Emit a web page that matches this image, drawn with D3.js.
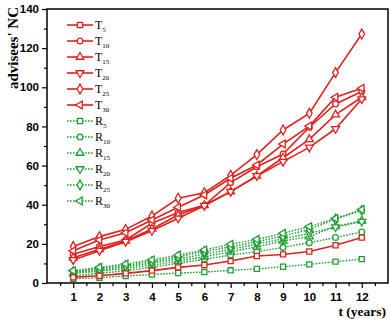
<!DOCTYPE html>
<html>
<head>
<meta charset="utf-8">
<script src="https://cdn.jsdelivr.net/npm/d3@7"></script>
<style>
  body { margin: 0; background: #fff; }
  svg { display: block; }
</style>
</head>
<body>
<svg id="chart"></svg>
<script>
const width = 390;
const height = 319;
const margin = { top: 9, right: 2, bottom: 36, left: 47 };

const years = [1, 2, 3, 4, 5, 6, 7, 8, 9, 10, 11, 12];
const xTicks = [1, 2, 3, 4, 5, 6, 7, 8, 9, 10, 11, 12];
const yTicks = [0, 20, 40, 60, 80, 100, 120, 140];

const T5  = [2.9, 3.7, 4.9, 6.3, 8.0, 9.2, 11.2, 13.8, 14.6, 16.1, 19.3, 23.2];
const T10 = [14.7, 18.6, 22.0, 30.5, 36.0, 39.7, 51.3, 59.4, 65.9, 79.6, 91.5, 97.8];
const T15 = [12.9, 17.2, 21.5, 27.6, 34.7, 39.7, 46.7, 54.7, 64.0, 73.4, 86.0, 94.9];
const T20 = [11.8, 16.5, 21.1, 26.7, 33.1, 39.5, 46.7, 54.7, 62.0, 69.3, 78.8, 94.0];
const T25 = [18.6, 23.7, 27.4, 34.2, 43.3, 46.1, 55.0, 65.6, 78.2, 86.7, 107.5, 127.2];
const T30 = [16.5, 22.0, 25.7, 32.2, 38.7, 45.0, 53.5, 60.3, 71.0, 80.2, 94.9, 99.5];

const R5  = [2.2, 2.7, 3.6, 4.3, 5.1, 5.6, 6.5, 7.2, 8.3, 9.5, 10.9, 12.2];
const R10 = [3.6, 4.9, 6.3, 8.0, 10.1, 12.1, 14.3, 16.0, 18.2, 20.6, 23.2, 26.1];
const R15 = [4.8, 6.0, 7.5, 9.0, 11.2, 13.4, 16.0, 18.5, 21.5, 23.7, 28.9, 31.8];
const R20 = [5.3, 6.6, 8.3, 10.1, 12.3, 14.7, 17.2, 19.9, 22.5, 25.4, 28.6, 31.4];
const R25 = [5.8, 7.3, 9.0, 10.9, 13.4, 16.0, 18.5, 21.1, 24.0, 27.4, 32.6, 37.1];
const R30 = [6.3, 8.0, 9.7, 11.8, 14.3, 16.9, 19.8, 22.3, 25.4, 28.8, 33.0, 37.5];

const red = "#e0201e";
const green = "#1f9e34";

// name, subscript, values, marker
const series = [
    { name: "T", sub: "5",  values: T5,  shape: "square" },
    { name: "T", sub: "10", values: T10, shape: "circle" },
    { name: "T", sub: "15", values: T15, shape: "up" },
    { name: "T", sub: "20", values: T20, shape: "down" },
    { name: "T", sub: "25", values: T25, shape: "diamond" },
    { name: "T", sub: "30", values: T30, shape: "left" },
    { name: "R", sub: "5",  values: R5,  shape: "square" },
    { name: "R", sub: "10", values: R10, shape: "circle" },
    { name: "R", sub: "15", values: R15, shape: "up" },
    { name: "R", sub: "20", values: R20, shape: "down" },
    { name: "R", sub: "25", values: R25, shape: "diamond" },
    { name: "R", sub: "30", values: R30, shape: "left" }
];

const svg = d3.select("#chart")
    .attr("width", width)
    .attr("height", height);

const xScale = d3.scaleLinear()
    .domain([0, 13])
    .range([margin.left, width - margin.right]);

const yScale = d3.scaleLinear()
    .domain([0, 140])
    .range([height - margin.bottom, margin.top]);

function symbolPath(shape) {
    const types = {
        square: [d3.symbolSquare, 26, 0],
        circle: [d3.symbolCircle, 26, 0],
        up: [d3.symbolTriangle, 26, 0],
        down: [d3.symbolTriangle, 26, 180],
        diamond: [d3.symbolDiamond, 28, 0],
        left: [d3.symbolTriangle, 26, -90]
    };
    const t = types[shape];
    return { d: d3.symbol().type(t[0]).size(t[1])(), rot: t[2] };
}

// minor ticks
svg.append("g")
    .attr("transform", `translate(0, ${yScale(0)})`)
    .call(d3.axisBottom(xScale).tickValues(d3.range(0.5, 13, 1)).tickSize(3).tickFormat(""))
    .call(g => g.select(".domain").remove());

svg.append("g")
    .attr("transform", `translate(${margin.left}, 0)`)
    .call(d3.axisLeft(yScale).tickValues(d3.range(10, 140, 20)).tickSize(3).tickFormat(""))
    .call(g => g.select(".domain").remove());

const xAxis = svg.append("g")
    .attr("transform", `translate(0, ${yScale(0)})`)
    .call(d3.axisBottom(xScale).tickValues(xTicks).tickSize(5).tickPadding(5));
xAxis.select(".domain").remove();

const yAxis = svg.append("g")
    .attr("transform", `translate(${margin.left}, 0)`)
    .call(d3.axisLeft(yScale).tickValues(yTicks).tickSize(5).tickPadding(3));
yAxis.select(".domain").remove();

svg.selectAll(".tick line").attr("stroke", "#000").attr("stroke-width", 1.2);
svg.selectAll(".tick text")
    .attr("fill", "#000")
    .style("font-family", "'Liberation Sans', Arial, sans-serif")
    .style("font-weight", "bold")
    .style("font-size", "11.5px");

// frame
svg.append("rect")
    .attr("x", xScale(0))
    .attr("y", yScale(140))
    .attr("width", xScale(13) - xScale(0))
    .attr("height", yScale(0) - yScale(140))
    .attr("fill", "none")
    .attr("stroke", "#000")
    .attr("stroke-width", 1.5);

const line = d3.line()
    .x((d, i) => xScale(years[i]))
    .y(d => yScale(d));

const plot = svg.append("g");

// green series drawn first, red on top
const ordered = series.filter(s => s.name === "R").concat(series.filter(s => s.name === "T"));

ordered.forEach(s => {
    const col = s.name === "T" ? red : green;
    plot.append("path")
        .datum(s.values)
        .attr("d", line)
        .attr("fill", "none")
        .attr("stroke", col)
        .attr("stroke-width", s.name === "T" ? 1.6 : 1.4)
        .attr("stroke-dasharray", s.name === "T" ? null : "1.6,1.4");

    const sym = symbolPath(s.shape);
    plot.selectAll(null)
        .data(s.values)
        .enter()
        .append("path")
        .attr("d", sym.d)
        .attr("transform", (d, i) => `translate(${xScale(years[i])},${yScale(d)}) rotate(${sym.rot})`)
        .attr("fill", "#fff")
        .attr("stroke", col)
        .attr("stroke-width", 1.3);
});

// legend
const legend = svg.append("g");
series.forEach((s, i) => {
    const col = s.name === "T" ? red : green;
    const y = 25 + i * 16;
    const g = legend.append("g").attr("transform", `translate(67, ${y})`);
    g.append("line")
        .attr("x1", 0).attr("x2", 26)
        .attr("stroke", col)
        .attr("stroke-width", s.name === "T" ? 1.6 : 1.4)
        .attr("stroke-dasharray", s.name === "T" ? null : "1.6,1.4");
    const sym = symbolPath(s.shape);
    g.append("path")
        .attr("d", sym.d)
        .attr("transform", `translate(13,0) rotate(${sym.rot})`)
        .attr("fill", "#fff")
        .attr("stroke", col)
        .attr("stroke-width", 1.3);
    const t = g.append("text")
        .attr("x", 28)
        .attr("y", 4)
        .style("font-family", "'Liberation Serif', 'Times New Roman', serif")
        .style("font-size", "12px")
        .attr("fill", "#000");
    t.append("tspan").text(s.name);
    t.append("tspan")
        .attr("dy", 3)
        .style("font-size", "7px")
        .text(s.sub);
});

// axis titles
svg.append("text")
    .attr("transform", "translate(18, 7) rotate(-90)")
    .attr("text-anchor", "end")
    .style("font-family", "'Liberation Serif', 'Times New Roman', serif")
    .style("font-weight", "bold")
    .style("font-size", "15px")
    .text("advisees' NC");

svg.append("text")
    .attr("x", width - 4)
    .attr("y", 316)
    .attr("text-anchor", "end")
    .style("font-family", "'Liberation Serif', 'Times New Roman', serif")
    .style("font-weight", "bold")
    .style("font-size", "13.5px")
    .text("t (years)");
</script>
</body>
</html>
